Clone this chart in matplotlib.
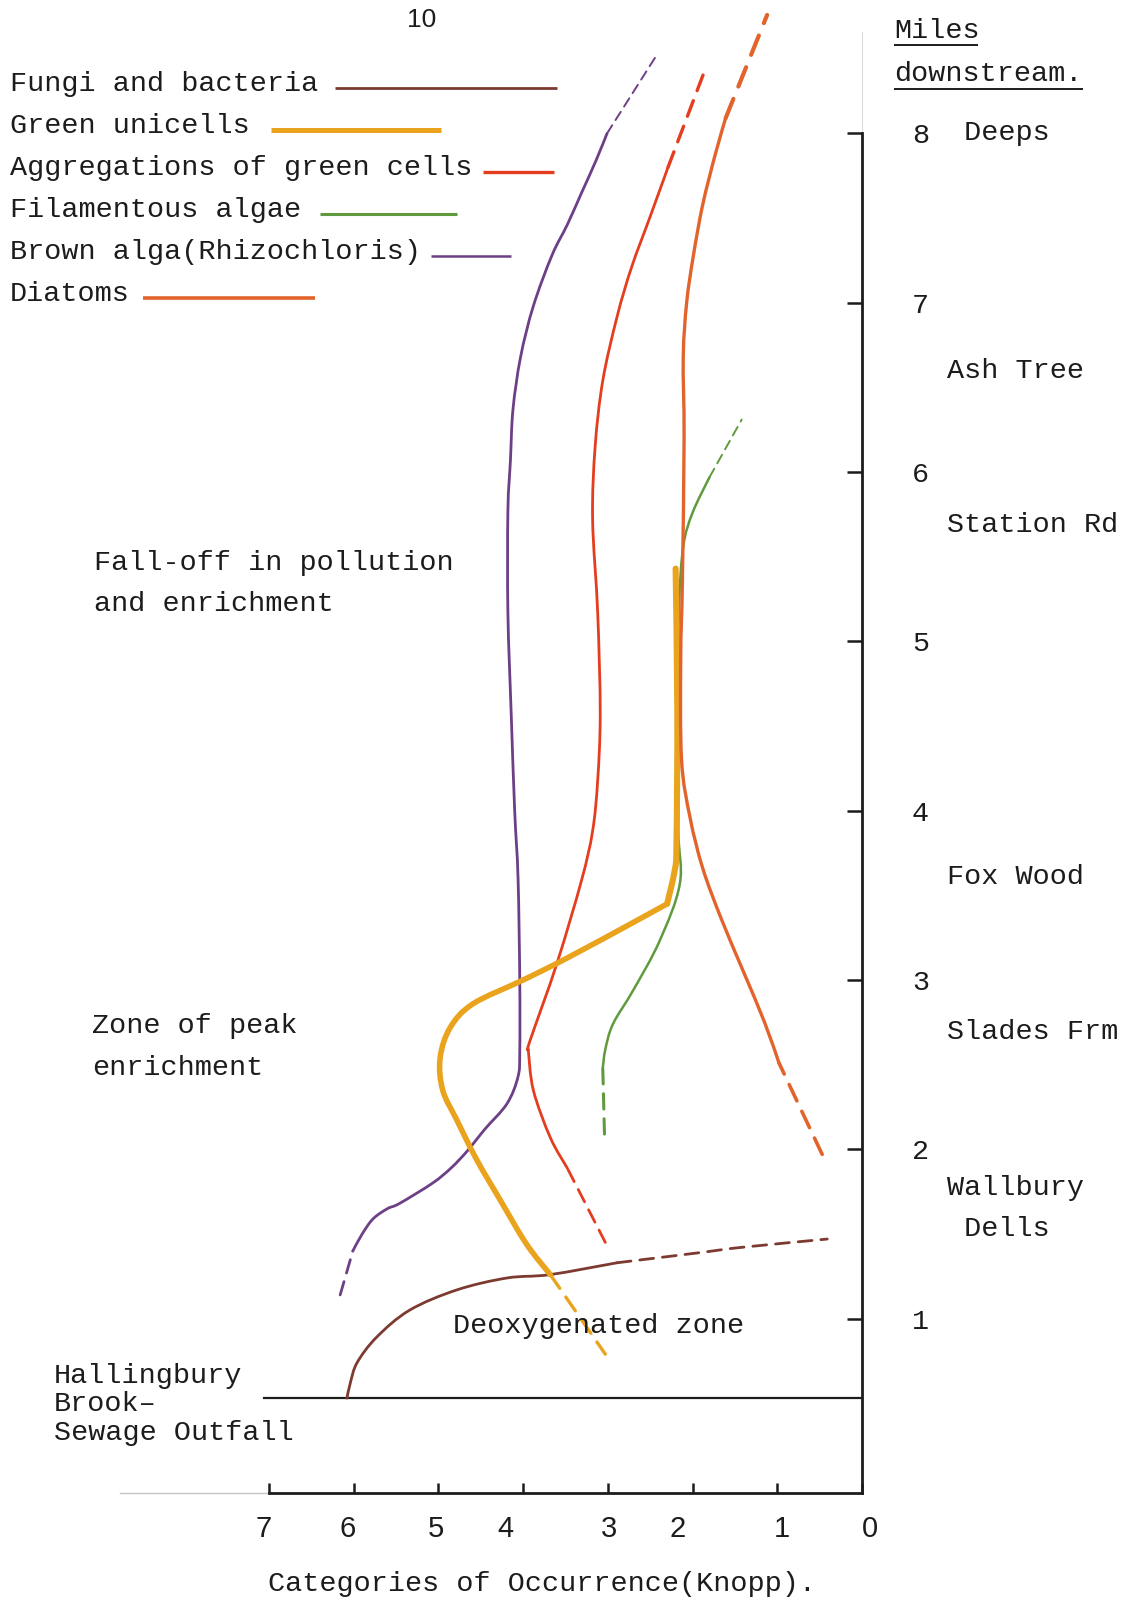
import numpy as np
import matplotlib.pyplot as plt
from matplotlib.lines import Line2D
from matplotlib.path import Path
from matplotlib.patches import PathPatch
from matplotlib.transforms import blended_transform_factory

W, H = 1124, 1602
MONO = 'Liberation Mono'
SANS = 'Liberation Sans'
INK = '#1c1c1c'

# axis values
categories = [7, 6, 5, 4, 3, 2, 1, 0]
category_label_px = [264, 348, 436, 505, 609, 678, 782, 870]   # typed a little off the ticks
miles = [1, 2, 3, 4, 5, 6, 7, 8]
outfall_mile = 0.53
outfall_start = 7.06

stations = [' Deeps', 'Ash Tree', 'Station Rd', 'Fox Wood', 'Slades Frm', 'Wallbury', ' Dells']
station_miles = [8.0, 6.60, 5.69, 3.61, 2.69, 1.77, 1.53]

# (category, miles) traces; *_dash parts are the dashed extrapolations
fungi_c = [6.08, 6.04, 5.96, 5.73, 5.34, 4.78, 4.19, 3.68, 2.89]
fungi_m = [0.53, 0.62, 0.74, 0.89, 1.05, 1.17, 1.24, 1.26, 1.33]
fungi_dash_c = [2.89, 1.91, 1.44, 0.41]
fungi_dash_m = [1.33, 1.39, 1.42, 1.47]

unicell_c = [2.20, 2.18, 2.19, 2.21, 2.30, 2.70, 3.48, 4.00, 4.59, 4.86, 4.98, 4.95, 4.78, 4.55, 4.27, 3.96, 3.68]
unicell_m = [5.43, 4.58, 3.80, 3.65, 3.45, 3.34, 3.13, 3.00, 2.86, 2.72, 2.54, 2.35, 2.17, 1.94, 1.70, 1.44, 1.26]
unicell_dash_c = [3.68, 3.03]
unicell_dash_m = [1.26, 0.79]

aggr_c = [3.48, 3.68, 3.88, 3.94, 3.92, 3.60, 3.31, 3.18, 3.12, 3.09, 3.12, 3.18, 3.15, 3.06, 2.89, 2.72, 2.50, 2.29]
aggr_m = [1.89, 2.07, 2.35, 2.59, 2.64, 3.10, 3.59, 3.88, 4.18, 4.58, 5.17, 5.72, 6.15, 6.54, 6.92, 7.21, 7.51, 7.80]
aggr_low_c = [3.03, 3.48]
aggr_low_m = [1.45, 1.89]
aggr_top_c = [2.29, 1.85]
aggr_top_m = [7.80, 8.38]

fil_c = [3.06, 3.03, 2.94, 2.70, 2.39, 2.15, 2.17, 2.17, 2.16, 2.11, 2.00, 1.80]
fil_m = [2.48, 2.59, 2.74, 2.94, 3.23, 3.57, 3.90, 4.60, 5.20, 5.56, 5.76, 5.97]
fil_low_c = [3.04, 3.06]
fil_low_m = [2.09, 2.48]
fil_top_c = [1.80, 1.42]
fil_top_m = [5.97, 6.31]

rhizo_c = [6.01, 5.90, 5.77, 5.60, 5.46, 5.07, 4.85, 4.66, 4.45, 4.19, 4.06, 4.04, 4.04, 4.06, 4.10,
           4.14, 4.18, 4.18, 4.15, 4.12, 4.03, 3.88, 3.66, 3.48, 3.31, 3.14, 3.01]
rhizo_m = [1.40, 1.50, 1.59, 1.65, 1.68, 1.80, 1.89, 1.99, 2.12, 2.27, 2.43, 2.58, 3.00, 3.60, 4.00,
           4.56, 5.17, 5.77, 6.07, 6.37, 6.68, 6.98, 7.28, 7.46, 7.65, 7.84, 8.00]
rhizo_low_c = [6.16, 6.01]
rhizo_low_m = [1.14, 1.40]
rhizo_top_c = [3.01, 2.44]
rhizo_top_m = [8.00, 8.45]

diat_c = [0.98, 1.15, 1.40, 1.66, 1.88, 2.03, 2.13, 2.14, 2.12, 2.10, 2.11, 2.07, 1.99, 1.88, 1.73, 1.61]
diat_m = [2.51, 2.75, 3.05, 3.36, 3.66, 3.96, 4.30, 4.90, 5.36, 6.20, 6.68, 7.00, 7.28, 7.58, 7.88, 8.09]
diat_low_c = [0.47, 0.98]
diat_low_m = [1.97, 2.51]
diat_top_c = [1.61, 1.12]
diat_top_m = [8.09, 8.70]

legend_labels = ['Fungi and bacteria', 'Green unicells', 'Aggregations of green cells',
                 'Filamentous algae', 'Brown alga(Rhizochloris)', 'Diatoms']
colors = {'fungi': '#7d3a30', 'unicell': '#e9a31c', 'aggr': '#e43d1f',
          'fil': '#5f9b3e', 'rhizo': '#6c3f86', 'diat': '#e2642c'}
legend_colors = [colors['fungi'], colors['unicell'], colors['aggr'],
                 colors['fil'], colors['rhizo'], colors['diat']]
legend_lw = [2.0, 3.6, 2.4, 2.2, 1.8, 2.6]
legend_spans = [(335, 557), (271, 441), (483, 554), (320, 457), (431, 511), (143, 315)]


def fx(px):
    return px / W


def fy(py):
    return 1 - py / H


def fig_text(x, y, s, size=20.5, family=MONO, **kw):
    fig.text(fx(x), fy(y), s, fontsize=size, family=family, color=INK, va='center', **kw)


def fig_line(x0, x1, y, color=INK, lw=1.5):
    fig.add_artist(Line2D([fx(x0), fx(x1)], [fy(y), fy(y)], transform=fig.transFigure,
                          color=color, lw=lw, solid_capstyle='butt'))


def smooth_path(c, m):
    # Catmull-Rom through the read points, written as cubic Bezier segments
    p = np.column_stack([c, m]).astype(float)
    if len(p) < 3:
        return Path(p)
    ext = np.vstack([p[0], p, p[-1]])
    verts = [p[0]]
    codes = [Path.MOVETO]
    for i in range(1, len(ext) - 2):
        p0, p1, p2, p3 = ext[i - 1], ext[i], ext[i + 1], ext[i + 2]
        verts += [p1 + (p2 - p0) / 6, p2 - (p3 - p1) / 6, p2]
        codes += [Path.CURVE4] * 3
    return Path(verts, codes)


def trace(c, m, color, lw, dashed=False, z=3):
    ls = (0, (5, 3.2)) if dashed else '-'
    patch = PathPatch(smooth_path(c, m), fill=False, edgecolor=color, lw=lw, ls=ls,
                      capstyle='round', joinstyle='round', clip_on=False, zorder=z)
    ax.add_patch(patch)


fig = plt.figure(figsize=(W / 100, H / 100), dpi=100)
fig.patch.set_facecolor('white')

y_lo, y_hi = -0.03, 8.75
ax = fig.add_axes([fx(269), fy(1493), (862 - 269) / W, 1486.5 / H])
ax.set_xlim(7, 0)
ax.set_ylim(y_lo, y_hi)
ax.patch.set_alpha(0)

for s in ['left', 'top']:
    ax.spines[s].set_visible(False)
ax.spines['bottom'].set_linewidth(2.0)
ax.spines['right'].set_linewidth(2.0)
ax.spines['right'].set_bounds(y_lo, 8.0)
for s in ['bottom', 'right']:
    ax.spines[s].set_color(INK)

ax.set_xticks(categories)
ax.set_xticklabels([])
ax.tick_params(axis='x', direction='in', length=7, width=1.8, colors=INK)
ax.yaxis.tick_right()
ax.set_yticks(miles)
ax.set_yticklabels([str(m) for m in miles])
ax.tick_params(axis='y', direction='in', length=11, width=1.8, pad=36, colors=INK,
               labelsize=20.5, labelfontfamily=MONO)

for cat, px in zip(categories, category_label_px):
    fig_text(px, 1529, str(cat), size=21, family=SANS, ha='center')

# faint ruling beyond the drawn axes
ax.plot([8.76, 7], [y_lo, y_lo], color='#c4c4c4', lw=1.0, clip_on=False)
ax.plot([0, 0], [8.0, 8.6], color='#dcdcdc', lw=0.8, clip_on=False)

# sewage outfall
ax.plot([outfall_start, 0], [outfall_mile, outfall_mile], color=INK, lw=1.6, clip_on=False)

trace(fungi_c, fungi_m, colors['fungi'], 2.0, z=3)
trace(fungi_dash_c, fungi_dash_m, colors['fungi'], 2.0, True, z=3)

trace(rhizo_c, rhizo_m, colors['rhizo'], 2.0, z=3)
trace(rhizo_low_c, rhizo_low_m, colors['rhizo'], 2.0, True, z=3)
trace(rhizo_top_c, rhizo_top_m, colors['rhizo'], 1.4, True, z=3)

trace(fil_c, fil_m, colors['fil'], 1.8, z=4)
trace(fil_low_c, fil_low_m, colors['fil'], 2.2, True, z=4)
trace(fil_top_c, fil_top_m, colors['fil'], 1.4, True, z=4)

# aggregations: sharp kink where the trace turns back
trace(aggr_c[:4], aggr_m[:4], colors['aggr'], 2.0, z=5)
trace(aggr_c[3:], aggr_m[3:], colors['aggr'], 2.0, z=5)
trace(aggr_low_c, aggr_low_m, colors['aggr'], 2.0, True, z=5)
trace(aggr_top_c, aggr_top_m, colors['aggr'], 2.4, True, z=5)

# green unicells: corner at the foot of the vertical run
trace(unicell_c[:5], unicell_m[:5], colors['unicell'], 4.4, z=6)
trace(unicell_c[4:], unicell_m[4:], colors['unicell'], 4.0, z=6)
trace(unicell_dash_c, unicell_dash_m, colors['unicell'], 2.4, True, z=6)

trace(diat_c, diat_m, colors['diat'], 2.4, z=7)
trace(diat_low_c, diat_low_m, colors['diat'], 2.6, True, z=7)
trace(diat_top_c, diat_top_m, colors['diat'], 3.0, True, z=7)

# station names beside the mileage scale
tr = blended_transform_factory(fig.transFigure, ax.transData)
for name, m in zip(stations, station_miles):
    ax.text(fx(947), m, name, transform=tr, fontsize=20.5, family=MONO, color=INK,
            va='center', ha='left')

# legend
for i, (lab, col, lw, (x0, x1)) in enumerate(zip(legend_labels, legend_colors, legend_lw, legend_spans)):
    y = 84 + i * 42
    fig_text(10, y, lab)
    fig_line(x0, x1, y + 4, color=col, lw=lw)

# headings and notes
fig_text(422, 20, '10', size=19, family=SANS, ha='center')
fig_text(894, 31, 'Miles')
fig_line(894, 978, 45, lw=1.4)
fig_text(894, 74, 'downstream.')
fig_line(894, 1083, 89, lw=1.4)

fig_text(94, 563, 'Fall-off in pollution')
fig_text(94, 604, 'and enrichment')
fig_text(92, 1026, 'Zone of peak')
fig_text(92, 1068, 'enrichment')
fig_text(453, 1326, 'Deoxygenated zone')
fig_text(54, 1376, 'Hallingbury')
fig_text(54, 1404, 'Brook\u2013')
fig_text(54, 1433, 'Sewage Outfall')

fig_text(542, 1584, 'Categories of Occurrence(Knopp).', ha='center')

fig.savefig('out.png', dpi=100, facecolor='white')
